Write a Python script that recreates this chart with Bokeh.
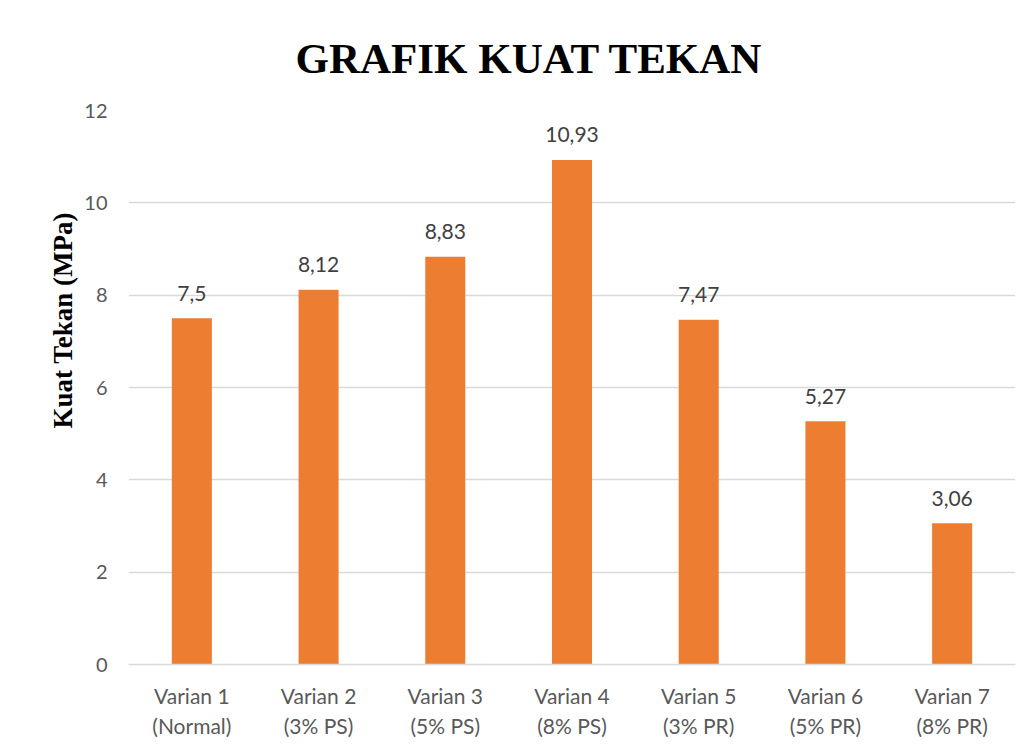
from bokeh.plotting import figure
from bokeh.models import FactorRange, Range1d, FixedTicker, Title, ColumnDataSource
from bokeh.core.properties import value
from bokeh.embed import file_html
from bokeh.resources import INLINE

categories = ["Varian 1\n(Normal)", "Varian 2\n(3% PS)", "Varian 3\n(5% PS)", "Varian 4\n(8% PS)",
              "Varian 5\n(3% PR)", "Varian 6\n(5% PR)", "Varian 7\n(8% PR)"]
values = [7.5, 8.12, 8.83, 10.93, 7.47, 5.27, 3.06]
value_labels = ["7,5", "8,12", "8,83", "10,93", "7,47", "5,27", "3,06"]
y_ticks = [0, 2, 4, 6, 8, 10, 12]
title_text = "GRAFIK KUAT TEKAN"
y_label_text = "Kuat Tekan (MPa)"

src = ColumnDataSource(dict(cat=categories, val=values, lab=value_labels))

p = figure(width=1025, height=741, output_backend="svg", toolbar_location=None,
           x_range=FactorRange(*categories, range_padding=0), y_range=Range1d(0, 12),
           min_border_left=128, min_border_top=110, min_border_right=10, min_border_bottom=77)
p.outline_line_color = None
p.background_fill_color = "white"
p.border_fill_color = "white"

p.title.text = title_text
p.title.align = "left"
p.title.offset = 167
p.title.standoff = 57
p.title.text_font = "Liberation Serif"
p.title.text_font_style = "bold"
p.title.text_font_size = "43px"
p.title.text_color = "black"

ylab = Title(text=y_label_text, align="left", offset=236, standoff=8,
             text_font="Liberation Serif", text_font_style="bold", text_font_size="27px",
             text_color="black")
p.add_layout(ylab, "left")

p.vbar(x="cat", top="val", width=0.316, source=src, fill_color="#ED7D31", line_color=None)
p.text(x="cat", y="val", text="lab", source=src, y_offset=-25, text_align="center",
       text_baseline="alphabetic", text_font=value("Lato"), text_font_size="21px", text_color="#404040")

p.xgrid.grid_line_color = None
p.ygrid.grid_line_color = "#D9D9D9"
p.ygrid.grid_line_width = 1.3
p.yaxis.ticker = FixedTicker(ticks=y_ticks)
p.yaxis.axis_line_color = None
p.yaxis.major_tick_line_color = None
p.yaxis.minor_tick_line_color = None
p.yaxis.major_label_standoff = 15
p.yaxis.major_label_text_font = "Lato"
p.yaxis.major_label_text_font_size = "20px"
p.yaxis.major_label_text_color = "#595959"

p.xaxis.axis_line_color = "#D9D9D9"
p.xaxis.axis_line_width = 1.3
p.xaxis.major_tick_line_color = None
p.xaxis.minor_tick_line_color = None
p.xaxis.major_label_standoff = 12
p.xaxis.major_label_text_font = "Lato"
p.xaxis.major_label_text_font_size = "21px"
p.xaxis.major_label_text_color = "#595959"

open("out.html", "w").write(file_html(p, INLINE))
